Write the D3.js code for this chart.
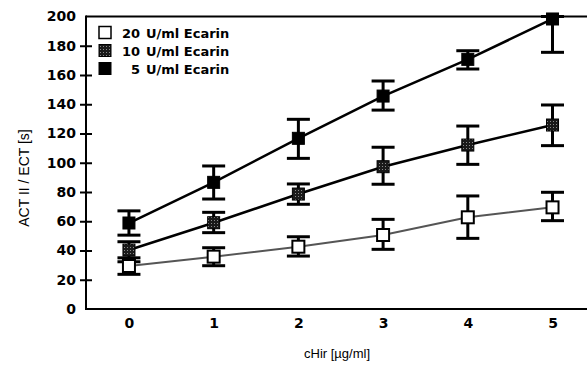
<!DOCTYPE html>
<html><head><meta charset="utf-8">
<script src="https://cdn.jsdelivr.net/npm/d3@7"></script>
<style>body{margin:0;background:#fff}svg{display:block}</style>
</head><body>
<svg id="chart" width="587" height="375"></svg>
<script>
const concentrations = [0, 1, 2, 3, 4, 5];
const yTicks = [0, 20, 40, 60, 80, 100, 120, 140, 160, 180, 200];
const seriesNames = ["20 U/ml Ecarin", "10 U/ml Ecarin", "5 U/ml Ecarin"];
const legendNums = ["20", "10", "5"];
// 20 U/ml
const mean20 = [29.4, 35.8, 42.6, 50.6, 62.7, 69.5];
const low20  = [23.7, 29.6, 36.2, 40.8, 48.3, 60.4];
const high20 = [32.3, 41.9, 49.4, 61.3, 77.3, 79.8];
// 10 U/ml
const mean10 = [40.3, 59.0, 78.6, 97.3, 112.1, 125.8];
const low10  = [35.0, 52.2, 71.6, 85.3, 98.9, 111.7];
const high10 = [46.0, 66.1, 85.5, 110.6, 125.1, 139.5];
// 5 U/ml
const mean5 = [58.8, 86.6, 116.7, 145.6, 170.7, 198.3];
const low5  = [50.5, 75.2, 103.0, 136.0, 164.1, 175.5];
const high5 = [67.1, 97.8, 129.7, 155.9, 176.6, 200.0];

(function () {
const series = [
  {name: seriesNames[0], num: legendNums[0], mean: mean20, low: low20, high: high20, kind: "open"},
  {name: seriesNames[1], num: legendNums[1], mean: mean10, low: low10, high: high10, kind: "dotted"},
  {name: seriesNames[2], num: legendNums[2], mean: mean5, low: low5, high: high5, kind: "solid"}
];

const svg = d3.select("#chart");
const pLeft = 86, pRight = 587, pTop = 16.5, pBottom = 309;
const x = d3.scaleLinear().domain([-0.507, 5.407]).range([pLeft, pRight]);
const y = d3.scaleLinear().domain([0, 200]).range([pBottom, pTop]);

const defs = svg.append("defs");
const pat = defs.append("pattern").attr("id", "dots").attr("width", 3).attr("height", 3)
  .attr("patternUnits", "userSpaceOnUse");
pat.append("rect").attr("width", 3).attr("height", 3).attr("fill", "#1a1a1a");
pat.append("rect").attr("x", 1).attr("y", 1).attr("width", 1).attr("height", 1).attr("fill", "#8a8a8a");

const tickFont = "'DejaVu Sans', sans-serif";

// Y axis
const yAxis = d3.axisLeft(y).tickValues(yTicks).tickFormat(d3.format("d")).tickSize(0).tickPadding(10);
const gy = svg.append("g").attr("transform", `translate(${pLeft},0)`).call(yAxis);
gy.select(".domain").remove();
gy.selectAll("text").attr("font-family", tickFont).attr("font-weight", "bold")
  .attr("font-size", 14).attr("fill", "#000");
gy.selectAll(".tick").append("line")
  .attr("x1", -6).attr("x2", 6).attr("stroke", "#000").attr("stroke-width", 2)
  .style("display", d => (d === 0 || d === 200) ? "none" : null);

// X axis labels
const xAxis = d3.axisBottom(x).tickValues(concentrations).tickFormat(d3.format("d")).tickSize(0).tickPadding(9);
const gx = svg.append("g").attr("transform", `translate(0,${pBottom})`).call(xAxis);
gx.select(".domain").remove();
gx.selectAll("text").attr("font-family", tickFont).attr("font-weight", "bold")
  .attr("font-size", 14).attr("fill", "#000");

// frame lines
svg.append("line").attr("x1", pLeft).attr("x2", pRight).attr("y1", pBottom).attr("y2", pBottom)
  .attr("stroke", "#000").attr("stroke-width", 2);
svg.append("line").attr("x1", pLeft).attr("x2", pRight).attr("y1", pTop).attr("y2", pTop)
  .attr("stroke", "#000").attr("stroke-width", 2);
svg.append("line").attr("x1", pLeft).attr("x2", pLeft).attr("y1", pTop - 1).attr("y2", pBottom + 1)
  .attr("stroke", "#000").attr("stroke-width", 2);

// axis titles
svg.append("text").attr("x", 337).attr("y", 358).attr("text-anchor", "middle")
  .attr("font-family", "'Liberation Sans', sans-serif").attr("font-size", 13).attr("fill", "#000")
  .text("cHir [µg/ml]");
svg.append("text").attr("transform", "translate(29,178) rotate(-90)").attr("text-anchor", "middle")
  .attr("font-family", "'Liberation Sans', sans-serif").attr("font-size", 14).attr("fill", "#000")
  .text("ACT II / ECT [s]");

// series
const line = d3.line().x((d, i) => x(concentrations[i])).y(d => y(d));
series.forEach(s => {
  const g = svg.append("g");
  g.append("path").attr("d", line(s.mean)).attr("fill", "none")
    .attr("stroke", s.kind === "open" ? "#555" : "#000")
    .attr("stroke-width", s.kind === "open" ? 2 : 2.5);
  concentrations.forEach((c, i) => {
    const cx = x(c);
    g.append("line").attr("x1", cx).attr("x2", cx).attr("y1", y(s.low[i])).attr("y2", y(s.high[i]))
      .attr("stroke", "#000").attr("stroke-width", 3);
    [s.low[i], s.high[i]].forEach(v => {
      g.append("line").attr("x1", cx - 11.5).attr("x2", cx + 11.5).attr("y1", y(v)).attr("y2", y(v))
        .attr("stroke", "#000").attr("stroke-width", 3);
    });
  });
});
series.forEach(s => {
  concentrations.forEach((c, i) => {
    const sz = 12;
    svg.append("rect").attr("x", x(c) - sz / 2).attr("y", y(s.mean[i]) - sz / 2)
      .attr("width", sz).attr("height", sz)
      .attr("fill", s.kind === "open" ? "#fff" : s.kind === "dotted" ? "url(#dots)" : "#000")
      .attr("stroke", "#000").attr("stroke-width", s.kind === "open" ? 2 : 1);
  });
});

// legend
series.forEach((s, i) => {
  const cy = 33 + i * 18;
  svg.append("rect").attr("x", 99).attr("y", cy - 6.5).attr("width", 12).attr("height", 12)
    .attr("fill", s.kind === "open" ? "#fff" : s.kind === "dotted" ? "url(#dots)" : "#000")
    .attr("stroke", "#000").attr("stroke-width", s.kind === "open" ? 1.5 : 1);
  svg.append("text").attr("x", 140).attr("y", cy + 5).attr("text-anchor", "end")
    .attr("font-family", tickFont).attr("font-weight", "bold").attr("font-size", 13).attr("fill", "#000")
    .text(s.num);
  svg.append("text").attr("x", 146).attr("y", cy + 5)
    .attr("font-family", tickFont).attr("font-weight", "bold").attr("font-size", 13).attr("fill", "#000")
    .text(s.name.replace(s.num + " ", ""));
});
})();
</script>
</body></html>
